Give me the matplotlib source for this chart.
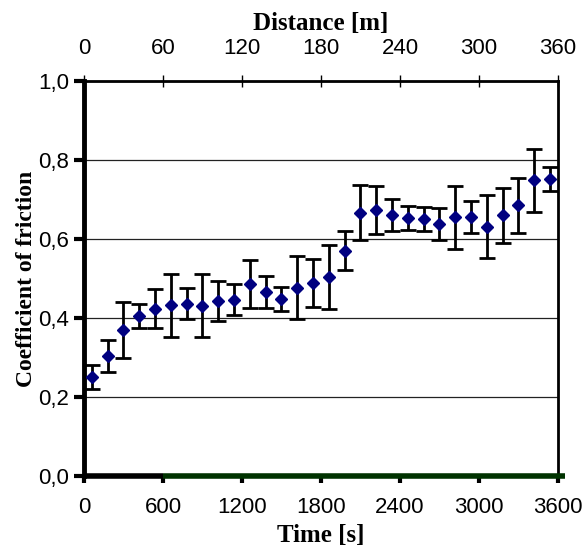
import matplotlib
matplotlib.use('Agg')
import matplotlib.pyplot as plt
from matplotlib.ticker import FuncFormatter

# time of each measurement [s]
time_s = [60, 180, 300, 420, 540, 660, 780, 900, 1020, 1140,
          1260, 1380, 1500, 1620, 1740, 1860, 1980, 2100, 2220, 2340,
          2460, 2580, 2700, 2820, 2940, 3060, 3180, 3300, 3420, 3540]
# mean coefficient of friction
cof = [0.251, 0.304, 0.370, 0.406, 0.424, 0.433, 0.437, 0.432, 0.444, 0.447,
       0.486, 0.467, 0.448, 0.477, 0.489, 0.504, 0.571, 0.667, 0.674, 0.661,
       0.653, 0.651, 0.638, 0.655, 0.656, 0.632, 0.660, 0.686, 0.749, 0.752]
# standard deviation (error bars)
cof_err = [0.03, 0.04, 0.07, 0.03, 0.05, 0.08, 0.04, 0.08, 0.05, 0.04,
           0.06, 0.04, 0.03, 0.08, 0.06, 0.08, 0.05, 0.07, 0.06, 0.04,
           0.03, 0.03, 0.04, 0.08, 0.04, 0.08, 0.07, 0.07, 0.08, 0.03]

x_ticks = [0, 600, 1200, 1800, 2400, 3000, 3600]
y_ticks = [0.0, 0.2, 0.4, 0.6, 0.8, 1.0]
dist_ticks = [0, 60, 120, 180, 240, 300, 360]

tick_font = 'Liberation Sans'
title_font = 'Liberation Serif'
tick_size = 16
title_size = 18

fig = plt.figure(figsize=(5.83, 5.48), dpi=100)
ax = fig.add_axes([0.144, 0.131, 0.813, 0.721])

ax.yaxis.grid(True, color='#222222', linewidth=0.9)
ax.set_axisbelow(True)

ax.errorbar(time_s, cof, yerr=cof_err, fmt='D', color='#000080',
            markersize=6.5, ecolor='black', elinewidth=2.0,
            capsize=6, capthick=2.0, zorder=3)

ax.set_xlim(0, 3600)
ax.set_ylim(0, 1.0)
ax.set_xticks(x_ticks)
ax.set_yticks(y_ticks)
ax.yaxis.set_major_formatter(FuncFormatter(lambda v, p: f'{v:.1f}'.replace('.', ',')))

for lbl in ax.get_xticklabels() + ax.get_yticklabels():
    lbl.set_fontfamily(tick_font)
    lbl.set_fontsize(tick_size)

ax.tick_params(axis='x', direction='out', length=5, width=3, pad=10, color='black')
ax.tick_params(axis='y', direction='out', length=7, width=3, pad=3.5, color='black')

ax.spines['left'].set_linewidth(3.5)
ax.spines['top'].set_linewidth(2)
ax.spines['right'].set_linewidth(2)
ax.spines['bottom'].set_visible(False)

# bottom axis line: black up to 600 s, dark green afterwards
ax.plot([0, 600], [0, 0], color='black', lw=4, clip_on=False,
        solid_capstyle='butt', zorder=5)
ax.plot([600, 3650], [0, 0], color='#003300', lw=4, clip_on=False,
        solid_capstyle='butt', zorder=5)

ax.set_xlabel('Time [s]', fontfamily=title_font, fontweight='bold',
              fontsize=title_size, labelpad=4)
ax.set_ylabel('Coefficient of friction', fontfamily=title_font, fontweight='bold',
              fontsize=17, labelpad=1)

# top axis: sliding distance
top = ax.secondary_xaxis('top', functions=(lambda t: t / 10, lambda d: d * 10))
top.set_xticks(dist_ticks)
top.tick_params(direction='inout', length=9, width=1, pad=11.5)
for lbl in top.get_xticklabels():
    lbl.set_fontfamily(tick_font)
    lbl.set_fontsize(tick_size)
top.spines['top'].set_visible(False)
top.set_xlabel('Distance [m]', fontfamily=title_font, fontweight='bold',
               fontsize=title_size, labelpad=6)

fig.savefig('out.png', dpi=100, facecolor='white')
